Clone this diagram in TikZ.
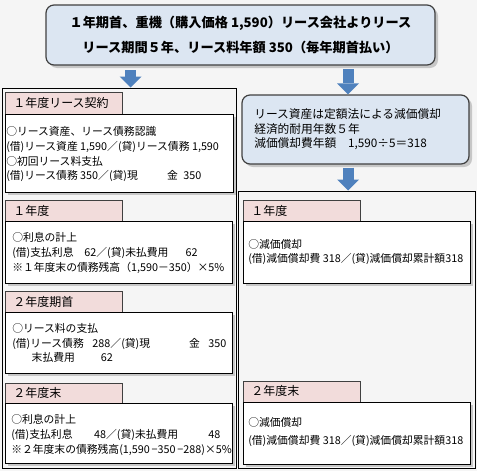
\documentclass[tikz,border=0pt]{standalone}
\usepackage{fontspec}
\setmainfont{Noto Sans CJK JP}
\usetikzlibrary{arrows.meta,fit,shadows,positioning}
\definecolor{bgcol}{HTML}{F5F5F5}
\definecolor{hdpink}{HTML}{F2DCDB}
\definecolor{boxblue}{HTML}{DCE6F2}
\definecolor{arrblue}{HTML}{4F81BD}

\begin{document}
\begin{tikzpicture}[x=0.75pt, y=-0.75pt,
    frame/.style={draw=black, line width=0.75pt, inner sep=0pt},
    hd/.style={draw=black!75, fill=hdpink, line width=0.75pt, inner sep=0pt},
    body/.style={draw=black, fill=white, line width=0.75pt, inner sep=0pt,
        drop shadow={shadow xshift=2.25pt, shadow yshift=-2.25pt, fill=black!22, opacity=1}},
    note/.style={draw=black!75, fill=boxblue, line width=0.9pt, rounded corners=6pt, inner sep=0pt,
        drop shadow={shadow xshift=2.25pt, shadow yshift=-2.25pt, fill=black!22, opacity=1}},
    ttl/.style={anchor=west, inner sep=0pt, font=\fontsize{9}{11}\selectfont},
    txt/.style={anchor=west, inner sep=0pt, align=left, font=\fontsize{8.1}{11}\selectfont},
    barrow/.style={draw=arrblue, line width=8.25pt,
        -{Triangle[width=16.5pt, length=8.25pt, line width=0pt]}}
]
\useasboundingbox (0,0) rectangle (477,471);
\fill[bgcol] (0,0) rectangle (477,471);

% lease terms
\node[note, fit={(46,5) (435,65)}] (lease) {};
\node[font=\bfseries\fontsize{9.9}{18.75}\selectfont, align=center, inner sep=0pt] (leasetx) at (lease.center)
    {１年期首、重機（購入価格 1,590）リース会社よりリース\\リース期間５年、リース料年額 350（毎年期首払い）};

% outer frames
\node[frame, fit={(2,88) (236,468)}] (lframe) {};
\node[frame, fit={(238,191) (475,468)}] (rframe) {};

% depreciation note
\node[note, fit={(242,95) (469,164)}] (depr) {};
\node[txt, font=\fontsize{8.8}{10.9}\selectfont] (deprtx) at (254,129.5)
    {リース資産は定額法による減価償却\\経済的耐用年数５年\\減価償却費年額\quad 1,590÷5＝318};

\coordinate (la) at (130.5,65);
\coordinate (ra) at (348,65);
\draw[barrow, shorten <=3.75pt] (la) -- (la |- lframe.north);
\draw[barrow, shorten <=3pt] (ra) -- (ra |- depr.north);
\draw[barrow, shorten <=2.25pt] (ra |- depr.south) -- (ra |- rframe.north);

% left column
\node[hd, fit={(5,92) (122,114)}] (h1) {};
\node[body, fit={(5,114) (233,192)}] (b1) {};
\node[ttl] (h1t) at (13,103) {１年度リース契約};
\node[txt] (b1t) at (6,154.5) {○リース資産、リース債務認識\\(借)リース資産 1,590／(貸)リース債務 1,590\\○初回リース料支払\\(借)リース債務 350／(貸)現\hspace{2.7em}金\enspace 350};

\node[hd, fit={(5,200) (122,221)}] (h2) {};
\node[body, fit={(5,221) (232,283)}] (b2) {};
\node[ttl] (h2t) at (13,211) {１年度};
\node[txt] (b2t) at (12,253) {○利息の計上\\(借)支払利息\quad 62／(貸)未払費用\hspace{1.6em}62\\※１年度末の債務残高（1,590－350）×5\%};

\node[hd, fit={(5,291) (122,312)}] (h3) {};
\node[body, fit={(5,312) (232,373)}] (b3) {};
\node[ttl] (h3t) at (13,302) {２年度期首};
\node[txt] (b3t) at (12,343) {○リース料の支払\\(借)リース債務\hspace{0.8em}288／(貸)現\hspace{3.6em}金\hspace{0.8em}350\\\hspace{1.8em}末払費用\hspace{2.4em}62};

\node[hd, fit={(5,383) (122,403)}] (h4) {};
\node[body, fit={(5,403) (232,463)}] (b4) {};
\node[ttl] (h4t) at (13,393) {２年度末};
\node[txt] (b4t) at (11,435) {○利息の計上\\(借)支払利息\hspace{2em}48／(貸)未払費用\hspace{2.8em}48\\※２年度末の債務残高(1,590\,−350\,−288)×5\%};

% right column
\node[hd, fit={(243,200) (360,221)}] (h5) {};
\node[body, fit={(243,221) (470,283)}] (b5) {};
\node[ttl] (h5t) at (251,211) {１年度};
\node[txt, font=\fontsize{8.1}{10.5}\selectfont] (b5t) at (248,252) {○減価償却\\(借)減価償却費 318／(貸)減価償却累計額318};

\node[hd, fit={(243,381) (360,402)}] (h6) {};
\node[body, fit={(243,402) (470,464)}] (b6) {};
\node[ttl] (h6t) at (251,391) {２年度末};
\node[txt, font=\fontsize{8.1}{13.5}\selectfont] (b6t) at (248,432) {○減価償却\\(借)減価償却費 318／(貸)減価償却累計額318};
\end{tikzpicture}
\end{document}
